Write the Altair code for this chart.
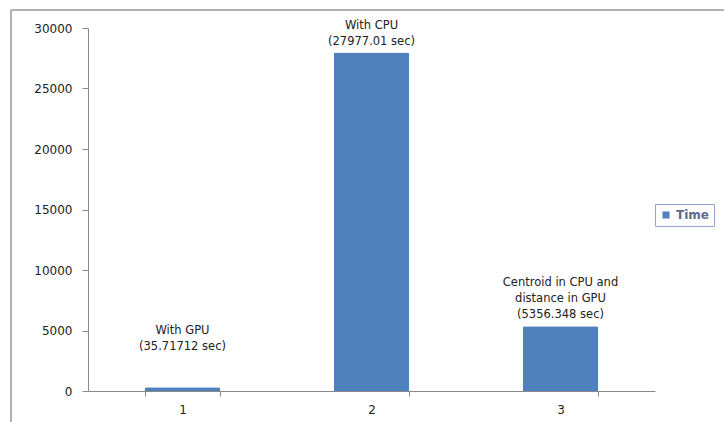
import altair as alt
import pandas as pd

categories = ["1", "2", "3"]
times = [300, 27977.01, 5356.348]
labels = ["With GPU\n(35.71712 sec)", "With CPU\n(27977.01 sec)",
          "Centroid in CPU and\ndistance in GPU\n(5356.348 sec)"]
label_y = [5450, 30700, 9420]
series = ["Time", "Time", "Time"]

df = pd.DataFrame({"cat": categories, "time": times, "label": labels,
                   "label_y": label_y, "series": series})

FONT = "DejaVu Sans"

x_enc = alt.X("cat:N", title=None, sort=categories,
              scale=alt.Scale(paddingInner=0.6, paddingOuter=0.3),
              axis=alt.Axis(labelAngle=0, tickBand="extent", tickSize=5,
                            labelPadding=8, domainColor="#888888",
                            tickColor="#888888", labelFontSize=12,
                            labelColor="#222222", labelFont=FONT))

bars = alt.Chart(df).mark_bar(cornerRadiusTopLeft=2, cornerRadiusTopRight=2).encode(
    x=x_enc,
    y=alt.Y("time:Q", title=None,
            scale=alt.Scale(domain=[0, 30000], nice=False),
            axis=alt.Axis(values=[0, 5000, 10000, 15000, 20000, 25000, 30000],
                          format="d", grid=False, tickSize=6, labelPadding=10,
                          domainColor="#888888", tickColor="#888888",
                          labelFontSize=12, labelColor="#222222", labelFont=FONT)),
    color=alt.Color("series:N", title=None,
                    scale=alt.Scale(range=["#4f81bd"]),
                    legend=alt.Legend(orient="none", legendX=567, legendY=176,
                                      symbolType="square", symbolSize=50,
                                      labelFontSize=12, labelFontWeight="bold",
                                      labelColor="#5b6b8b", labelFont=FONT,
                                      strokeColor="#8ea5cc", padding=5,
                                      symbolStrokeWidth=0)),
)

text = alt.Chart(df).mark_text(baseline="top", align="center", lineBreak="\n",
                               lineHeight=16, fontSize=11.5, font=FONT,
                               color="#222222").encode(
    x=alt.X("cat:N", sort=categories),
    y=alt.Y("label_y:Q"),
    text="label:N",
)

frame_top = alt.Chart(df).mark_rule(color="#a6a6a6", strokeWidth=1).encode(
    x=alt.value(-77), x2=alt.value(700), y=alt.value(-18))
frame_left = alt.Chart(df).mark_rule(color="#a6a6a6", strokeWidth=1).encode(
    x=alt.value(-77), y=alt.value(-18), y2=alt.value(420))

chart = alt.layer(frame_top, frame_left, bars, text).properties(
    width=567, height=363,
    autosize=alt.AutoSizeParams(type="none"),
    padding={"left": 88, "top": 28, "right": 69, "bottom": 31},
).configure(background="white").configure_view(stroke=None, strokeWidth=0)

chart.save("out.html", embed_options={"renderer": "svg", "actions": False})
